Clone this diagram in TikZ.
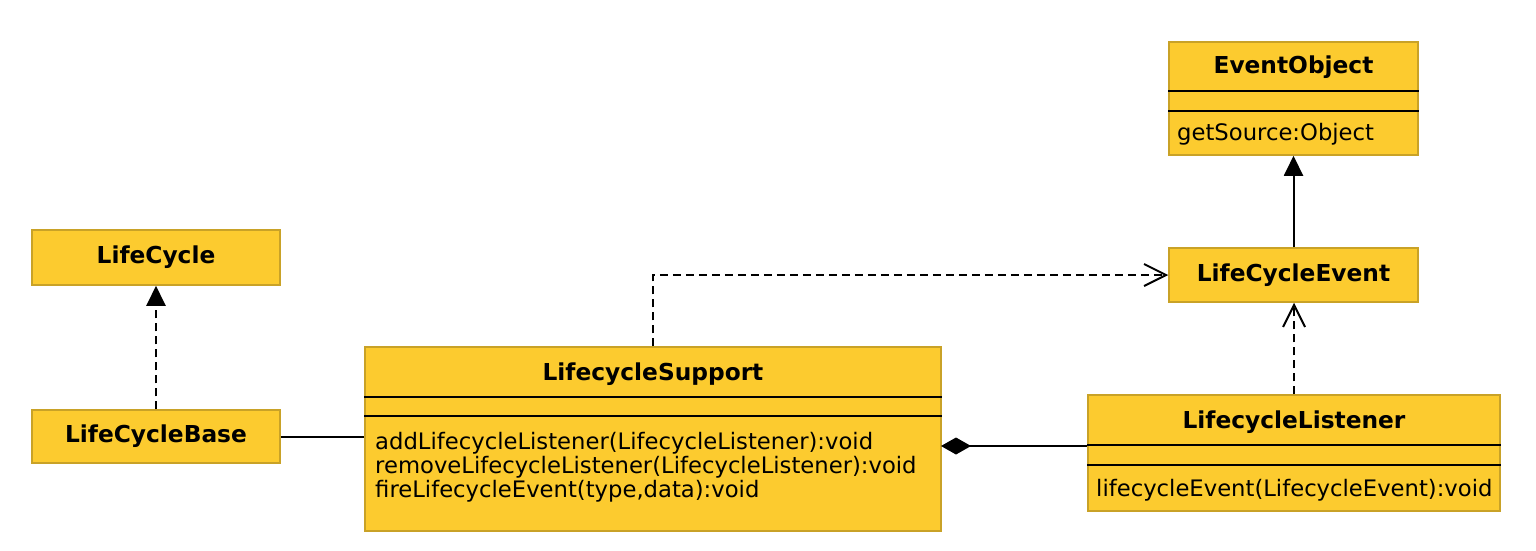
\documentclass[tikz,border=0pt]{standalone}
\usepackage{fontspec}
\setmainfont{DejaVu Sans}
\usetikzlibrary{arrows.meta}
\definecolor{umlfill}{HTML}{FCCB2F}
\definecolor{umledge}{HTML}{C9A227}
\begin{document}
\begin{tikzpicture}[x=1pt,y=-1pt,
  cls/.style={draw=umledge, fill=umlfill, line width=1.5pt, rectangle, inner sep=0pt},
  ttl/.style={font=\bfseries\fontsize{23.3}{27}\selectfont, inner sep=0pt},
  meth/.style={font=\fontsize{22.7}{24}\selectfont, inner sep=0pt, anchor=west, align=left},
  divider/.style={line width=2pt, black},
  conn/.style={line width=2pt, black},
  dsh/.style={conn, dash pattern=on 8pt off 5pt},
  tri/.style={-{Triangle[width=19pt,length=20pt]}},
  barb/.style={-{Straight Barb[width=22pt,length=22pt,line width=2pt]}},
  comp/.style={{Diamond[width=17pt,length=30pt]}-}
]
\fill[white] (0,0) rectangle (1536,550);
\useasboundingbox (0,0) rectangle (1536,550);

% EventObject
\node[cls, minimum width=249pt, minimum height=113pt] (eo) at (1293.5,98.5) {};
\node[ttl] (eot) at (1293.5,67) {EventObject};
\draw[divider] (eo.west |- 0,91) -- (eo.east |- 0,91);
\draw[divider] (eo.west |- 0,111) -- (eo.east |- 0,111);
\node[meth] (eom) at (1177,134) {getSource:Object};

% LifeCycle
\node[cls, minimum width=248pt, minimum height=55pt] (lc) at (156,257.5) {};
\node[ttl] (lct) at (156,257.5) {LifeCycle};

% LifeCycleBase
\node[cls, minimum width=248pt, minimum height=53pt] (lcb) at (156,436.5) {};
\node[ttl] (lcbt) at (156,436.5) {LifeCycleBase};

% LifecycleSupport
\node[cls, minimum width=576pt, minimum height=184pt] (ls) at (653,439) {};
\node[ttl] (lst) at (653,374) {LifecycleSupport};
\draw[divider] (ls.west |- 0,397) -- (ls.east |- 0,397);
\draw[divider] (ls.west |- 0,416) -- (ls.east |- 0,416);
\node[meth] (lsm) at (375,467) {addLifecycleListener(LifecycleListener):void\\removeLifecycleListener(LifecycleListener):void\\fireLifecycleEvent(type,data):void};

% LifeCycleEvent
\node[cls, minimum width=249pt, minimum height=54pt] (lce) at (1293.5,275) {};
\node[ttl] (lcet) at (1293.5,275) {LifeCycleEvent};

% LifecycleListener
\node[cls, minimum width=412pt, minimum height=116pt] (ll) at (1294,453) {};
\node[ttl] (llt) at (1294,422) {LifecycleListener};
\draw[divider] (ll.west |- 0,445) -- (ll.east |- 0,445);
\draw[divider] (ll.west |- 0,465) -- (ll.east |- 0,465);
\node[meth] (llm) at (1096,490) {lifecycleEvent(LifecycleEvent):void};

% connectors
\draw[dsh, tri] (lcb.north) -- (lc.south);
\draw[conn] (lcb.east) -- (lcb.east -| ls.west);
\draw[dsh, barb] (ls.north) |- (lce.west);
\draw[dsh, barb] (ll.north) -- (ll.north |- lce.south);
\draw[conn, tri] (lce.north) -- (eo.south);
\coordinate (dia) at (941,446);
\draw[conn, comp] (dia) -- (dia -| ll.west);
\end{tikzpicture}
\end{document}
